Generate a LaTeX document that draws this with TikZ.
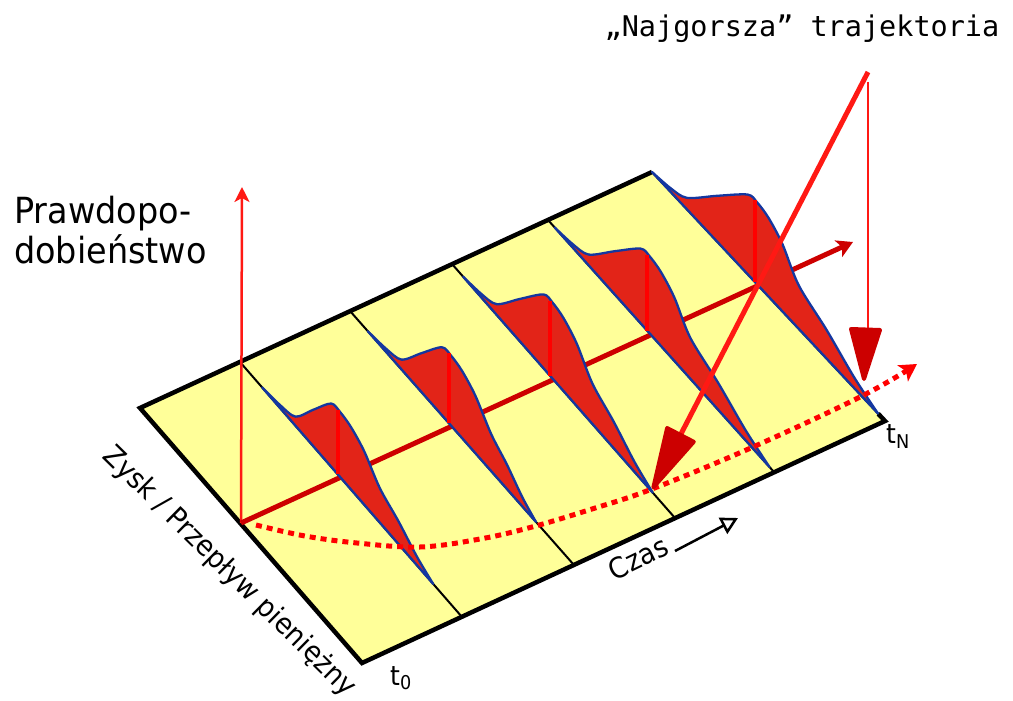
\documentclass[tikz,border=0pt]{standalone}
\usepackage{fontspec}
\setmainfont{DejaVu Sans}[FakeStretch=0.93]
\newfontfamily\titlefont{DejaVu Sans Mono}
\usetikzlibrary{arrows.meta,calc}
\definecolor{planeyellow}{RGB}{255,255,153}
\definecolor{distred}{RGB}{226,36,24}
\definecolor{distblue}{RGB}{20,55,160}
\definecolor{axisred}{RGB}{205,0,0}
\definecolor{headred}{RGB}{204,0,0}
\definecolor{brightred}{RGB}{255,25,20}
% #1 top point, #2 direction of column line, #3 stem height, #4 start, #5 end
\newcommand\distcurve[5]{%
  \begin{scope}[shift={#1}, x={#2}, y={(0pt,#3pt)}]
    \filldraw[distfill] plot[smooth, tension=0.5] coordinates {
      (#4,0) ({#4+0.08},0.045) ({#4+0.15},0.14) ({(#4+0.56)/2},0.56) (0.41,0.97)
      (0.45,1.0) (0.5,0.96) (0.56,0.82) (0.63,0.53)
      ({0.63+0.35*(#5-0.63)},0.35) ({0.63+0.7*(#5-0.63)},0.13) (#5,0)} -- cycle;
    \draw[stem] (0.44,0) -- (0.44,0.99);
  \end{scope}}
\begin{document}
\begin{tikzpicture}[x=1pt, y=-1pt,
  planefill/.style={fill=planeyellow},
  colline/.style={draw=black, line width=2pt},
  border/.style={draw=black, line width=4.5pt},
  distfill/.style={fill=distred, draw=distblue, line width=2.3pt, line join=round},
  stem/.style={draw=red, line width=4pt},
  timeaxis/.style={draw=axisred, line width=5pt},
  probaxis/.style={draw=brightred, line width=2.5pt},
  traj/.style={draw=red, line width=5pt, dash pattern=on 6pt off 5pt},
  pointer/.style={draw=brightred, line width=5pt},
  pointerthin/.style={draw=brightred, line width=2.5pt},
  headfill/.style={fill=headred, draw=headred, line width=4pt, line join=round},
  lbl/.style={inner sep=0pt, font=\fontsize{28.5}{34}\selectfont}]
\useasboundingbox (0,0) rectangle (1013,701);
% plane
\coordinate (TL) at (140,408);
\coordinate (TR) at (652,172);
\coordinate (BR) at (885,421);
\coordinate (BL) at (362,663);
\coordinate (T1) at (240,362); \coordinate (B1) at (462,617);
\coordinate (T2) at (350,311); \coordinate (B2) at (574,565);
\coordinate (T3) at (452,264); \coordinate (B3) at (675,518);
\coordinate (T4) at (548,220); \coordinate (B4) at (774,472);
\fill[planefill] (TL) -- (TR) -- (BR) -- (BL) -- cycle;
\foreach \k in {1,2,3,4} \draw[colline] (T\k) -- (B\k);
\draw[colline] (TR) -- (BR);
\draw[border] (TR) -- (TL) -- (BL) -- (BR) -- ($(BR)!10pt!(TR)$);
% axes
\coordinate (O) at (241,523);
\coordinate (pa) at (242,187);
\coordinate (ta) at (853,242);
\draw[probaxis, -{Stealth[length=15pt, width=15pt, inset=4pt]}] (O) -- (pa);
\draw[timeaxis, -{Stealth[length=16pt, width=18pt, inset=4pt]}] (O) -- (ta);
% distributions
\distcurve{(240pt,-362pt)}{(222pt,-255pt)}{65}{0.10}{0.87}
\distcurve{(350pt,-311pt)}{(224pt,-254pt)}{70}{0.08}{0.83}
\distcurve{(452pt,-264pt)}{(223pt,-254pt)}{76}{0.05}{0.90}
\distcurve{(548pt,-220pt)}{(226pt,-252pt)}{77}{0.03}{0.98}
\distcurve{(652pt,-172pt)}{(233pt,-249pt)}{82}{0.0}{0.97}
% worst trajectory
\coordinate (tr0) at (256,525);
\coordinate (tr1) at (917,364);
\draw[traj, -{Stealth[length=17pt, width=19pt, inset=4pt]}] plot[smooth, tension=0.6] coordinates {
  (tr0) (305,536) (357,543) (420,547) (480,539) (532,527) (592,509) (652,489)
  (753,447) (862,396) (tr1)};
% pointers
\coordinate (w1a) at (868,72);
\coordinate (w1b) at (652,490);
\draw[pointer] (w1a) -- ($(w1b)!55pt!(w1a)$);
\coordinate (w1t) at ($(w1b)!3pt!(w1a)$);
\coordinate (w1m) at ($(w1b)!62pt!(w1a)$);
\filldraw[headfill] (w1t) -- ($(w1m)!15pt!90:(w1a)$) -- ($(w1m)!15pt!-90:(w1a)$) -- cycle;
\coordinate (w2a) at (868,82);
\coordinate (w2b) at (865,382);
\draw[pointerthin] (w2a) -- (868,332);
\filldraw[headfill] (864,379) -- (851,329) -- (880,330) -- cycle;
% labels
\node[inner sep=0pt, anchor=base, font=\titlefont\fontsize{28.5}{34}\selectfont] (title) at (802,37) {„Najgorsza” trajektoria};
\node[inner sep=0pt, anchor=base west, font=\fontsize{36}{40}\selectfont] (prob1) at (14,223) {Prawdopo-};
\node[inner sep=0pt, anchor=base west, font=\fontsize{36}{40}\selectfont] (prob2) at (14,263) {dobieństwo};
\node[lbl, rotate=-44.5] (zysk) at (229,572) {Zysk / Przepływ pieniężny};
\node[lbl, rotate=26] (czas) at (638,558) {Czas};
\coordinate (cz1) at (675,551);
\coordinate (cz2) at (738,518);
\draw[line width=2.5pt, -{Triangle[open, length=17pt, width=18pt]}] (cz1) -- (cz2);
\node[inner sep=0pt, anchor=base west, font=\fontsize{27}{30}\selectfont] (t0) at (390,685) {t\raisebox{-4pt}{\fontsize{19}{20}\selectfont 0}};
\node[inner sep=0pt, anchor=base west, font=\fontsize{27}{30}\selectfont] (tN) at (886,443) {t\raisebox{-5pt}{\fontsize{19}{20}\selectfont N}};
\end{tikzpicture}
\end{document}
